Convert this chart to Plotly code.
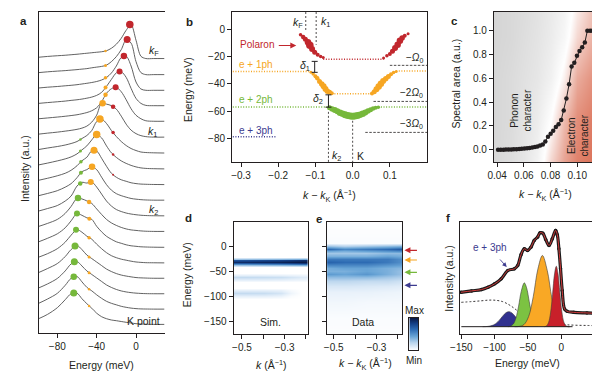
import plotly.graph_objects as go

W, H = 600, 371
FONT = "Liberation Sans, Arial, Helvetica, sans-serif"
INK = "#231f20"
CURVE = "#505050"
RED = "#c1272d"
ORANGE = "#f6a623"
GREEN = "#76b83b"
NAVY = "#3c3b8f"


def PX(x):
    return x / W


def PY(y):
    return 1 - y / H


# ---------------- Panel a : EDC stack ----------------
a_energy = [-99, -90, -80, -72, -66, -60, -55, -50, -45, -40, -35, -30, -25, -20, -15, -10, -5, 0, 5, 10, 18, 29]
a_spectra = [
    [0, 0.8, 1.5, 2, 2.5, 3, 3.5, 4, 4.5, 5, 5.5, 6.5, 9, 13, 19, 27, 32.5, 17, 1, -1.3, -1.3, -1.3],
    [0, 0.8, 1.5, 2, 2.5, 3, 3.5, 4, 4.8, 5.5, 6.2, 7.5, 11, 16, 23, 32.8, 29.5, 11, 0, -2, -2, -2],
    [0, 0.8, 1.5, 2.2, 2.7, 3.3, 4, 4.7, 5.5, 6.5, 8, 10.5, 15, 22, 30.5, 31.8, 22, 6, -1, -2.3, -2.3, -2.3],
    [0, 0.8, 1.6, 2.3, 3, 3.6, 4.3, 5.2, 6.3, 8, 11, 17, 24, 30.5, 31.5, 26, 15, 5, 0, -2, -2.3, -2.3],
    [0, 0.8, 1.7, 2.5, 3.2, 4, 5, 6.2, 8, 11, 17, 25.5, 30, 31.4, 27, 19, 10, 3.5, 0, -2, -2.5, -2.5],
    [0, 1, 2, 3, 3.8, 4.8, 6, 8, 12, 19, 31, 30, 28.5, 25, 18, 10, 4, 0.5, -1.5, -2.5, -3, -3],
    [0, 1.5, 3, 4.5, 6, 8, 11, 14, 19, 28, 30.5, 26, 19, 13, 8, 4, 1, -1, -2.5, -3, -3.3, -3.5],
    [0, 1.8, 4, 6, 8, 11, 15, 19, 25, 30.3, 27, 19, 12, 7.5, 4, 1.5, -0.5, -2, -3, -3.5, -3.8, -4],
    [0, 2, 4.5, 7, 10, 14.5, 19.5, 23, 29.5, 29.3, 22, 14, 7, 3, 0.5, -1, -2.5, -3.3, -3.8, -4, -4.2, -4.3],
    [0, 2.2, 5, 8.5, 12, 18, 24, 26, 29, 26, 18.5, 11, 5.5, 2, 0, -1.5, -2.8, -3.5, -4, -4.3, -4.5, -4.5],
    [0, 2.5, 5.5, 10, 15, 25, 28.7, 28, 29, 24, 17, 10, 5, 1.5, -0.5, -2, -3, -3.7, -4.2, -4.5, -4.7, -4.8],
    [0, 3, 7, 13, 20, 28, 27.5, 25.5, 23, 17.5, 12, 7, 3.5, 1, -1, -2.5, -3.5, -4, -4.5, -4.8, -5, -5],
    [0, 3.5, 8, 14, 21, 28.2, 26.5, 24, 22.5, 15.5, 10, 5.5, 2.5, 0, -1.5, -3, -4, -4.5, -5, -5.2, -5.4, -5.5],
    [0, 3.5, 8.5, 15, 22, 27.5, 25, 21, 18, 13, 8.5, 4.5, 1.5, -0.5, -2, -3, -4, -4.8, -5.2, -5.5, -5.6, -5.7],
    [0, 4, 9, 16, 23, 27, 23, 17.5, 14, 10.5, 7, 3.5, 1, -1, -2.5, -3.5, -4.3, -5, -5.3, -5.5, -5.7, -5.7],
    [0, 4, 9.5, 17, 24, 26.3, 22, 17, 13.5, 10, 6.5, 3, 0.5, -1.5, -3, -4, -4.7, -5.2, -5.5, -5.7, -5.8, -5.8],
    [0, 4.3, 10, 18, 25, 26.8, 21.5, 16, 12.5, 8.5, 5, 2, 0, -1.5, -3, -4, -4.8, -5.3, -5.6, -5.7, -5.8, -5.8],
    [0, 4.3, 11, 19, 25, 25.5, 20, 15, 10.5, 5.5, 2, 0, -1.3, -2, -2.8, -3.6, -4.3, -5, -5.3, -5.5, -5.7, -5.7],
]
a_dot_curve = [0, 1, 2, 3, 4, 5, 6, 7, 8, 9, 10, 11, 12, 13, 14, 15, 16, 17,
               0, 1, 2, 3, 4, 5, 6, 7, 8, 6, 7, 8, 9, 10, 11, 12, 13, 14, 15, 16, 17]
a_dot_energy = [-6.3, -9, -12.3, -16.7, -20.7, -34, -36.7, -40, -42.7, -44.7, -46,
                -59, -60, -61, -62, -62.7, -63.3, -63.3,
                -31, -31, -31, -31, -31, -23.3, -23.3, -23.3, -23.3,
                -56.5, -56.5, -56, -56, -56.7,
                -47.7, -47.5, -47.7, -47.7, -47.7, -47.7, -47.7]
a_dot_rel = [32.8, 33, 32, 32, 31.5, 31, 30.5, 30.3, 30, 29, 29.1,
             28.3, 28.2, 27.5, 26.5, 26.2, 26.6, 25.8,
             6.3, 7.2, 10.3, 15.8, 24, 27.3, 17, 10.5, 5.5,
             10, 14, 18.5, 23, 27.5,
             24.5, 23, 19.5, 15.6, 15.1, 14.1, 12.8]
a_dot_kind = ["red"] * 5 + ["orange"] * 6 + ["green"] * 7 + ["orange"] * 5 + ["red"] * 4 + ["green"] * 5 + ["orange"] * 7
a_dot_size = [7.5, 7, 6.5, 6, 6, 6.5, 7.5, 7.5, 7, 6.5, 6,
              6.5, 6, 6, 7, 7, 6.5, 7,
              2.5, 3, 3.5, 4, 4.5, 4.5, 3.5, 2.5, 2,
              2.5, 3, 3.5, 4, 4.5,
              4.5, 4, 3.5, 3, 3, 2.5, 2.5]
a_labels = ["<i>k</i><sub>F</sub>", "<i>k</i><sub>1</sub>", "<i>k</i><sub>2</sub>", "K point"]

# ---------------- Panel b : dispersion ----------------
b_pol_left_k = [-0.140, -0.133, -0.127, -0.120, -0.115, -0.109, -0.102, -0.094, -0.086, -0.079]
b_pol_left_E = [-4.1, -5.8, -7.5, -9.7, -11.9, -14.6, -17.0, -18.7, -20.0, -20.7]
b_pol_left_s = [3.5, 4.5, 5, 6.5, 7.5, 6, 5, 4, 3.5, 3]
b_pol_right_k = [0.083, 0.092, 0.100, 0.107, 0.114, 0.121, 0.127, 0.133, 0.140, 0.149]
b_pol_right_E = [-21.2, -19.5, -18.2, -16.3, -13.9, -11.4, -8.5, -6.6, -4.9, -3.4]
b_pol_right_s = [3, 3.5, 4, 5, 6, 6.5, 6.5, 5.5, 4, 3]
b_ph1_left_k = [-0.112, -0.106, -0.100, -0.095, -0.089, -0.083, -0.078, -0.073, -0.068, -0.062, -0.056]
b_ph1_left_E = [-31.6, -32.8, -34.5, -36.0, -38.2, -40.1, -41.8, -43.8, -45.3, -46.2, -46.9]
b_ph1_left_s = [3, 3.5, 4, 4.5, 5, 5.5, 6, 6, 5.5, 5, 4]
b_ph1_right_k = [0.052, 0.058, 0.064, 0.070, 0.076, 0.082, 0.089, 0.096, 0.103, 0.110, 0.117]
b_ph1_right_E = [-47.0, -45.8, -44.0, -42.0, -40.0, -38.0, -36.3, -34.6, -33.0, -31.8, -31.0]
b_ph1_right_s = [4, 5, 6, 6.5, 6.5, 6, 5.5, 5, 4, 3.5, 3]
b_ph2_k = [-0.062, -0.055, -0.048, -0.041, -0.034, -0.027, -0.020, -0.013, -0.006, 0.0,
           0.006, 0.013, 0.020, 0.027, 0.034, 0.041, 0.048, 0.055, 0.062, 0.069]
b_ph2_E = [-57.5, -58.3, -59.0, -60.0, -61.0, -61.8, -62.5, -63.1, -63.5, -63.6,
           -63.5, -63.1, -62.5, -61.8, -60.8, -59.8, -58.8, -58.0, -57.4, -57.0]
b_ph2_s = [5, 5.5, 6, 6, 6.5, 6.5, 7, 7, 7, 7, 7, 7, 6.5, 6.5, 6, 5.5, 5, 4.5, 4, 3.5]
b_red_flat_k = [-0.079, 0.083]
b_red_flat_E = [-22.0, -22.0]
b_or_flat_left_k = [-0.322, -0.112]
b_or_flat_left_E = [-31.0, -31.0]
b_or_flat_mid_k = [-0.056, 0.052]
b_or_flat_mid_E = [-47.3, -47.3]
b_or_flat_right_k = [0.117, 0.2]
b_or_flat_right_E = [-30.7, -30.7]
b_gr_flat_left_k = [-0.322, -0.062]
b_gr_flat_left_E = [-56.8, -56.8]
b_gr_flat_right_k = [0.069, 0.2]
b_gr_flat_right_E = [-56.8, -56.8]
b_ph3_flat_k = [-0.322, -0.207]
b_ph3_flat_E = [-78.5, -78.5]
b_omega_E = [-26.5, -52.8, -75.4]
b_omega_kstart = [0.100, 0.056, 0.034]
b_omega_kend = [0.2, 0.2, 0.2]
b_omega_labels = ["−<i>Ω</i><sub>0</sub>", "−2<i>Ω</i><sub>0</sub>", "−3<i>Ω</i><sub>0</sub>"]
b_vline_k = [-0.126, -0.098, -0.065, 0.0]
b_vline_Etop = [12.4, 12.4, -57.5, -64.0]
b_vline_Ebot = [-2.0, -11.5, -97.2, -97.2]
b_delta_k = [-0.102, -0.065]
b_delta_hi = [-23.6, -48.0]
b_delta_lo = [-31.6, -57.0]

# ---------------- Panel c : spectral area ----------------
c_k = [0.0407, 0.0427, 0.0447, 0.0466, 0.0486, 0.0506, 0.0525, 0.0545, 0.0565, 0.0584,
       0.0604, 0.0624, 0.0643, 0.0663, 0.0683, 0.0702, 0.0722, 0.0742, 0.0761, 0.0781,
       0.0801, 0.0820, 0.0840, 0.0860, 0.0880, 0.0899, 0.0919, 0.0939, 0.0958, 0.0978,
       0.0998, 0.1017, 0.1037, 0.1057, 0.1076, 0.1096, 0.1113]
c_area = [0.0, 0.0, 0.0, 0.002, 0.002, 0.003, 0.004, 0.005, 0.006, 0.008,
          0.010, 0.012, 0.015, 0.018, 0.022, 0.028, 0.035, 0.045, 0.07, 0.11,
          0.135, 0.16, 0.19, 0.215, 0.25, 0.33, 0.43, 0.55, 0.70, 0.73,
          0.79, 0.83, 0.86, 0.90, 1.0, 1.0, 1.0]
c_shade_k = [0.030, 0.050, 0.060, 0.070, 0.080, 0.090, 0.100, 0.120]
c_shade_area = [-0.2, 0.25, 0.6, 0.95, 1.3]
c_shade = [
    [-0.8, -0.6, -0.45, -0.2, 0.35, 0.65, 0.85, 1.0],
    [-0.8, -0.65, -0.5, -0.35, 0.0, 0.45, 0.75, 0.95],
    [-0.8, -0.65, -0.55, -0.45, -0.25, 0.1, 0.55, 0.85],
    [-0.8, -0.7, -0.6, -0.5, -0.35, -0.15, 0.25, 0.7],
    [-0.8, -0.7, -0.65, -0.55, -0.4, -0.25, 0.05, 0.55],
]

# ---------------- Panel d : simulation map ----------------
d_k = [-0.56, -0.48, -0.40, -0.32, -0.27, -0.22, -0.17]
d_energy = [60, -20, -24, -27, -30, -33, -36, -40, -52, -56, -61, -66, -71, -82, -87, -93, -99, -104, -185]
d_map = [
    [0, 0, 0, 0, 0, 0, 0],
    [0, 0, 0, 0, 0, 0, 0],
    [0.3, 0.32, 0.34, 0.36, 0.38, 0.4, 0.42],
    [0.75, 0.77, 0.8, 0.83, 0.86, 0.9, 0.92],
    [0.92, 0.93, 0.95, 0.96, 0.98, 1.0, 1.0],
    [0.72, 0.74, 0.77, 0.8, 0.83, 0.87, 0.9],
    [0.3, 0.32, 0.34, 0.36, 0.38, 0.4, 0.42],
    [0, 0, 0, 0, 0, 0, 0],
    [0, 0, 0, 0, 0, 0, 0],
    [0.09, 0.09, 0.09, 0.08, 0.07, 0.06, 0.05],
    [0.2, 0.2, 0.19, 0.18, 0.15, 0.12, 0.1],
    [0.09, 0.09, 0.09, 0.08, 0.07, 0.06, 0.05],
    [0, 0, 0, 0, 0, 0, 0],
    [0, 0, 0, 0, 0, 0, 0],
    [0.09, 0.09, 0.09, 0.08, 0.03, 0, 0],
    [0.2, 0.2, 0.19, 0.15, 0.06, 0, 0],
    [0.09, 0.09, 0.09, 0.07, 0.02, 0, 0],
    [0, 0, 0, 0, 0, 0, 0],
    [0, 0, 0, 0, 0, 0, 0],
]

# ---------------- Panel e : measured map ----------------
e_k = [-0.56, -0.45, -0.35, -0.25, -0.16]
e_energy = [60, 8, 2, -4, -8, -13, -18, -24, -30, -36, -42, -48, -54, -60, -68, -78, -90, -110, -140, -185]
e_map = [
    [0, 0, 0, 0, 0],
    [0.02, 0.02, 0.02, 0.02, 0.02],
    [0.35, 0.25, 0.3, 0.35, 0.4],
    [0.7, 0.55, 0.6, 0.65, 0.75],
    [0.45, 0.4, 0.45, 0.5, 0.55],
    [0.3, 0.3, 0.3, 0.35, 0.35],
    [0.4, 0.4, 0.4, 0.45, 0.4],
    [0.6, 0.6, 0.6, 0.6, 0.5],
    [0.7, 0.65, 0.65, 0.6, 0.5],
    [0.55, 0.55, 0.55, 0.5, 0.45],
    [0.4, 0.45, 0.45, 0.4, 0.35],
    [0.4, 0.4, 0.45, 0.4, 0.3],
    [0.5, 0.45, 0.5, 0.4, 0.3],
    [0.35, 0.35, 0.35, 0.3, 0.25],
    [0.22, 0.22, 0.2, 0.2, 0.15],
    [0.14, 0.14, 0.13, 0.12, 0.1],
    [0.08, 0.08, 0.08, 0.07, 0.06],
    [0.05, 0.05, 0.04, 0.04, 0.04],
    [0.02, 0.02, 0.02, 0.02, 0.02],
    [0.01, 0.01, 0.01, 0.01, 0.01],
]
e_arrow_E = [-6.6, -26.0, -50.6, -76.6]
e_arrow_colors = [RED, ORANGE, GREEN, NAVY]
cbar_levels = [0, 0.1, 0.25, 0.45, 0.65, 0.85, 1.0]

# ---------------- Panel f : EDC fit ----------------
f_energy = [-150.5, -134.6, -119.8, -109.9, -100, -90.1, -80.2, -70.3, -65.3, -60.4,
            -55.4, -50.5, -45.5, -40.6, -35.6, -31.7, -27.7, -23.3, -18.3, -13.4,
            -8.4, -5.9, -3.5, -1.0, 1.5, 5.0, 8.9, 18.8, 38.6, 53.0]
f_intensity = [34.3, 35.7, 37.0, 39.3, 42.7, 47.7, 56.0, 57.7, 61.0, 71.7,
               77.7, 76.0, 79.3, 86.0, 89.3, 93.7, 93.3, 87.0, 81.0, 87.7,
               96.0, 91.7, 77.7, 57.7, 36.0, 17.7, 15.3, 14.3, 13.7, 13.3]
f_bg_energy = [-150, -135, -120, -108, -98, -88, -80, -74, -68, -60, -50, -40, -30, -20, -10, 0, 10, 25, 40, 53]
f_bg = [24.3, 25, 25.8, 26.5, 26.3, 25, 22.5, 20, 17, 13, 9, 6.5, 5, 3.8, 3, 2.3, 1.8, 1.4, 1.2, 1.0]
f_blue_E = [-118, -110, -102, -95, -88, -83, -78.7, -74, -69, -62, -55, -48]
f_blue_I = [0, 0.3, 1.6, 5, 10.5, 13.9, 15, 13.7, 10.2, 4.7, 1.5, 0.3]
f_green_E = [-80, -76, -72, -68, -64, -60, -55.4, -52, -48, -44, -40, -35]
f_green_I = [0, 0.6, 2.6, 8.7, 20.5, 35.2, 43.7, 38.8, 25, 11.6, 3.9, 0.6]
f_orange_E = [-70, -63, -56, -49, -42, -35, -28.2, -21, -14, -7, 0, 7, 12]
f_orange_I = [0, 0.3, 2.1, 10, 29.9, 57.6, 71, 56.2, 28.5, 9.3, 1.9, 0.3, 0]
f_red_E = [-25, -22, -19, -16, -13, -10, -7.4, -5, -2, 1, 4, 7, 10, 13]
f_red_I = [0, 0.8, 4.1, 13.7, 32.2, 52.7, 60.3, 53.7, 33.7, 14.7, 4.5, 1, 0.1, 0]
f_base_E = [-150, 17]
f_base_I = [0, 0]

fig = go.Figure()


def sc(**kw):
    kw.setdefault("hoverinfo", "skip")
    kw.setdefault("showlegend", False)
    fig.add_trace(go.Scatter(**kw))


# ---- panel a traces
A_BASE = 14.3
A_STEP = 15.38
nA = len(a_spectra)
for i, rel in enumerate(a_spectra):
    off = A_BASE + (nA - 1 - i) * A_STEP
    sc(x=a_energy, y=[off + r for r in rel], mode="lines",
       line=dict(color=CURVE, width=0.9, shape="spline", smoothing=0.9), xaxis="x", yaxis="y")
kind_color = {"red": RED, "orange": ORANGE, "green": GREEN}
sc(x=a_dot_energy,
   y=[A_BASE + (nA - 1 - c) * A_STEP + r for c, r in zip(a_dot_curve, a_dot_rel)],
   mode="markers",
   marker=dict(color=[kind_color[k] for k in a_dot_kind], size=a_dot_size, opacity=1, line=dict(width=0)),
   xaxis="x", yaxis="y")

# ---- panel b traces
dot_line = dict(width=1.5, dash="1px,1.6px")
for kx, ey, col in [(b_red_flat_k, b_red_flat_E, RED), (b_or_flat_left_k, b_or_flat_left_E, ORANGE),
                    (b_or_flat_mid_k, b_or_flat_mid_E, ORANGE), (b_or_flat_right_k, b_or_flat_right_E, ORANGE),
                    (b_gr_flat_left_k, b_gr_flat_left_E, GREEN), (b_gr_flat_right_k, b_gr_flat_right_E, GREEN),
                    (b_ph3_flat_k, b_ph3_flat_E, NAVY)]:
    sc(x=kx, y=ey, mode="lines", line=dict(color=col, **dot_line), xaxis="x2", yaxis="y2")
for e, k0, k1 in zip(b_omega_E, b_omega_kstart, b_omega_kend):
    sc(x=[k0, k1], y=[e, e], mode="lines", line=dict(color=INK, width=0.8, dash="2.5px,1.5px"),
       xaxis="x2", yaxis="y2")
for k, e0, e1 in zip(b_vline_k, b_vline_Etop, b_vline_Ebot):
    sc(x=[k, k], y=[e0, e1], mode="lines", line=dict(color=INK, width=0.8, dash="2px,2px"),
       xaxis="x2", yaxis="y2")
for kx, ey, ss, col in [(b_pol_left_k, b_pol_left_E, b_pol_left_s, RED),
                        (b_pol_right_k, b_pol_right_E, b_pol_right_s, RED),
                        (b_ph1_left_k, b_ph1_left_E, b_ph1_left_s, ORANGE),
                        (b_ph1_right_k, b_ph1_right_E, b_ph1_right_s, ORANGE),
                        (b_ph2_k, b_ph2_E, b_ph2_s, GREEN)]:
    sc(x=kx, y=ey, mode="markers", marker=dict(color=col, size=ss, opacity=1, line=dict(width=0)),
       xaxis="x2", yaxis="y2")
sc(x=b_delta_k, y=[(h + l) / 2 for h, l in zip(b_delta_hi, b_delta_lo)], mode="markers",
   marker=dict(size=1, color="rgba(0,0,0,0)"),
   error_y=dict(type="data", array=[(h - l) / 2 for h, l in zip(b_delta_hi, b_delta_lo)],
                color=INK, thickness=1, width=3),
   xaxis="x2", yaxis="y2")

# ---- panel c traces
fig.add_trace(go.Heatmap(x=c_shade_k, y=c_shade_area, z=c_shade, zmin=-1, zmax=1, zsmooth="best",
                         colorscale=[[0, "#c8c8c8"], [0.5, "#ffffff"], [1, "#d9694e"]],
                         showscale=False, hoverinfo="skip", xaxis="x3", yaxis="y3"))
sc(x=c_k, y=c_area, mode="lines+markers", line=dict(color=INK, width=1),
   marker=dict(color=INK, size=4.5, opacity=1), xaxis="x3", yaxis="y3")

# ---- panels d, e maps
BLUES = [[0, "#ffffff"], [0.1, "#e3eef9"], [0.25, "#b5d2ec"], [0.45, "#68a4d6"],
         [0.65, "#2d6bb3"], [0.85, "#143f85"], [1, "#0a1c4a"]]
fig.add_trace(go.Heatmap(x=d_k, y=d_energy, z=d_map, zmin=0, zmax=1, zsmooth="best",
                         colorscale=BLUES, showscale=False, hoverinfo="skip", xaxis="x4", yaxis="y4"))
fig.add_trace(go.Heatmap(x=e_k, y=e_energy, z=e_map, zmin=0, zmax=1, zsmooth="best",
                         colorscale=BLUES, showscale=False, hoverinfo="skip", xaxis="x5", yaxis="y5"))
fig.add_trace(go.Heatmap(x=[0, 1], y=cbar_levels, z=[[v, v] for v in cbar_levels], zmin=0, zmax=1,
                         zsmooth="best", colorscale=BLUES, showscale=False, hoverinfo="skip",
                         xaxis="x7", yaxis="y7"))

# ---- panel f traces
sc(x=f_bg_energy, y=f_bg, mode="lines", line=dict(color=INK, width=0.9, dash="2px,2px", shape="spline"),
   xaxis="x6", yaxis="y6")
for ex, iy, col in [(f_blue_E, f_blue_I, "#31318f"), (f_green_E, f_green_I, "#7cc242"),
                    (f_orange_E, f_orange_I, "#f9a825"), (f_red_E, f_red_I, "#c8202a")]:
    sc(x=ex, y=iy, mode="lines", fill="tozeroy", fillcolor=col,
       line=dict(color="#3a3a3a", width=0.6, shape="spline"), xaxis="x6", yaxis="y6")
sc(x=f_base_E, y=f_base_I, mode="lines", line=dict(color=INK, width=1), xaxis="x6", yaxis="y6")
sc(x=f_energy, y=f_intensity, mode="lines+markers", line=dict(color="#1a1a1a", width=3.2, shape="spline"),
   marker=dict(color="#1a1a1a", size=3.5, opacity=1), xaxis="x6", yaxis="y6")
sc(x=f_energy, y=f_intensity, mode="lines", line=dict(color="#d23a3a", width=1, shape="spline"),
   xaxis="x6", yaxis="y6")


# ---------------- axes ----------------
def ax(domain, rng, anchor, **kw):
    d = dict(domain=domain, range=rng, anchor=anchor, showgrid=False, zeroline=False,
             showline=True, linecolor=INK, linewidth=1, mirror=True,
             ticks="outside", ticklen=4, tickwidth=1, tickcolor=INK,
             tickfont=dict(size=10, color=INK, family=FONT), fixedrange=True)
    d.update(kw)
    return d


noticks = dict(ticks="", showticklabels=False)
dom_dx = [PX(219.3), PX(295)]
dom_ex = [PX(314.3), PX(390.7)]
dom_low_y = [PY(326), PY(214)]

layout = dict(
    width=W, height=H, margin=dict(l=0, r=0, t=0, b=0), autosize=False,
    paper_bgcolor="white", plot_bgcolor="white", showlegend=False,
    font=dict(family=FONT, size=10, color=INK),
    xaxis=ax([PX(21), PX(149)], [-99, 29], "y", tickvals=[-80, -40, 0]),
    yaxis=ax([PY(325), PY(4.3)], [0, 320.7], "x", mirror=False, **noticks),
    xaxis2=ax([PX(217.7), PX(416)], [-0.324, 0.2], "y2", tickvals=[-0.3, -0.2, -0.1, 0, 0.1], tickformat=".1f"),
    yaxis2=ax([PY(154.3), PY(4)], [-97.2, 12.4], "x2", tickvals=[-80, -60, -40, -20, 0]),
    xaxis3=ax([PX(484), PX(587.3)], [0.0376, 0.1137], "y3", tickvals=[0.04, 0.06, 0.08, 0.10], tickformat=".2f"),
    yaxis3=ax([PY(154), PY(4)], [-0.103, 1.157], "x3", tickvals=[0, 0.2, 0.4, 0.6, 0.8, 1.0], tickformat=".1f"),
    xaxis4=ax(dom_dx, [-0.539, -0.19], "y4", tickvals=[-0.5, -0.4, -0.3, -0.2], ticktext=["−0.5", "", "−0.3", ""]),
    yaxis4=ax(dom_low_y, [-175, 50], "x4", tickvals=[0, -50, -100, -150]),
    xaxis5=ax(dom_ex, [-0.531, -0.18], "y5", tickvals=[-0.5, -0.4, -0.3, -0.2], ticktext=["−0.5", "", "−0.3", ""]),
    yaxis5=ax(dom_low_y, [-175, 50], "x5", tickvals=[0, -50, -100, -150], showticklabels=False),
    xaxis6=ax([PX(449.5), PX(588.3)], [-152, 53], "y6", tickvals=[-150, -100, -50, 0]),
    yaxis6=ax(dom_low_y, [-7.3, 104.4], "x6", **noticks),
    xaxis7=ax([PX(398), PX(407)], [0, 1], "y7", **noticks),
    yaxis7=ax([PY(342), PY(310)], [0, 1], "x7", **noticks),
)
fig.update_layout(**layout)

ann = []


def text(x, y, s, size=10, color=INK, xanchor="center", yanchor="middle", angle=0, bold=False):
    if bold:
        s = "<b>" + s + "</b>"
    ann.append(dict(x=PX(x), y=PY(y), xref="paper", yref="paper", text=s, showarrow=False,
                    xanchor=xanchor, yanchor=yanchor, textangle=angle,
                    font=dict(size=size, color=color, family=FONT)))


def arrow(xh, yh, dx, dy, color, width=1.2):
    ann.append(dict(x=PX(xh), y=PY(yh), xref="paper", yref="paper", text="", showarrow=True,
                    ax=dx, ay=dy, axref="pixel", ayref="pixel", arrowhead=2, arrowsize=1,
                    arrowwidth=width, arrowcolor=color))


# panel letters
for lx, ly, s in [(6, 13, "a"), (174, 14, "b"), (444, 13, "c"), (173, 210, "d"), (306, 211, "e"), (437, 210, "f")]:
    text(lx, ly, s, size=11.5, bold=True)

# panel a
text(85, 357, "Energy (meV)", size=10.5)
text(7, 160, "Intensity (a.u.)", size=10.5, angle=-90)
for (lx, ly), s in zip([(145, 43.3), (143, 124), (144, 201.7), (146, 312.5)], a_labels):
    text(lx, ly, s, size=10.5, xanchor="right")

# panel b
text(173, 82, "Energy (meV)", size=10.5, angle=-90)
text(317, 188, "<i>k</i> − <i>k</i><sub>K</sub> (Å<sup>−1</sup>)", size=10.5)
text(224, 36.7, "Polaron", color=RED, xanchor="left")
text(223, 56.7, "e + 1ph", color=ORANGE, xanchor="left")
text(223, 91.5, "e + 2ph", color=GREEN, xanchor="left")
text(223, 122.3, "e + 3ph", color=NAVY, xanchor="left")
arrow(283, 37.5, -19, 0, RED)
text(292, 15, "<i>k</i><sub>F</sub>", size=10.5, xanchor="right")
text(306, 14, "<i>k</i><sub>1</sub>", size=10.5, xanchor="left")
text(317.5, 148, "<i>k</i><sub>2</sub>", size=10.5, xanchor="left")
text(342.5, 147.5, "K", size=10.5, xanchor="left")
text(299, 58, "<i>δ</i><sub>1</sub>", size=10.5, xanchor="right")
text(312, 91, "<i>δ</i><sub>2</sub>", size=10.5, xanchor="right")
for ly, s in zip([50, 85, 116.5], b_omega_labels):
    text(414, ly, s, size=10, xanchor="right")

# panel c
text(445, 76, "Spectral area (a.u.)", size=10.5, angle=-90)
text(536, 187, "<i>k</i> − <i>k</i><sub>K</sub> (Å<sup>−1</sup>)", size=10.5)
text(512, 102, "Phonon<br>character", size=10, angle=-90)
text(569, 128, "Electron<br>character", size=10, angle=-90)

# panels d, e
text(172, 267, "Energy (meV)", size=10.5, angle=-90)
text(258, 356, "<i>k</i> (Å<sup>−1</sup>)", size=10.5)
text(353, 356, "<i>k</i> − <i>k</i><sub>K</sub> (Å<sup>−1</sup>)", size=10.5)
text(257, 314, "Sim.", size=10.5)
text(351, 314, "Data", size=10.5)
for e, col in zip(e_arrow_E, e_arrow_colors):
    arrow(393, 239 - e / 2, 14, 0, col)
text(403, 302, "Max", size=10)
text(403, 352, "Min", size=10)

# panel f
text(438, 270, "Intensity (a.u.)", size=10.5, angle=-90)
text(518, 355, "Energy (meV)", size=10.5)
text(480, 239, "e + 3ph", size=10, color=NAVY)
arrow(497, 259, -8, -9, NAVY, width=0.9)

fig.update_layout(annotations=ann)
fig.write_html("out.html")
